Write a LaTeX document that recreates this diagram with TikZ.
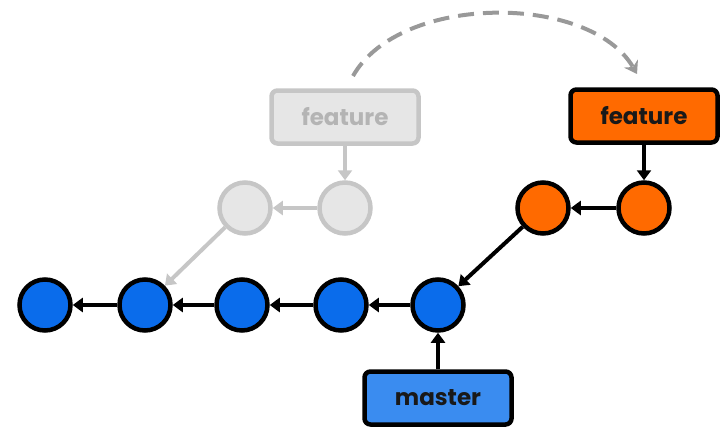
\documentclass[tikz,border=0pt]{standalone}
\usepackage{fontspec}
\setmainfont{Poppins}
\usetikzlibrary{arrows.meta}
\definecolor{cblue}{HTML}{0A6CEB}
\definecolor{cmaster}{HTML}{3A8CF0}
\definecolor{corange}{HTML}{FF6A00}
\definecolor{gfill}{HTML}{E6E6E6}
\definecolor{gline}{HTML}{C6C6C6}
\definecolor{gtext}{HTML}{B4B4B4}
\definecolor{dashgray}{HTML}{999999}
\tikzset{
  commit/.style={circle,draw=black,line width=4.5pt,minimum size=51pt,inner sep=0pt},
  bluec/.style={commit,fill=cblue},
  orangec/.style={commit,fill=corange},
  ghostc/.style={commit,draw=gline,fill=gfill},
  label/.style={rounded corners=6pt,draw=black,line width=4.5pt,minimum width=147pt,minimum height=53pt,font=\fontsize{23}{23}\selectfont\bfseries,text=black!90},
  link/.style={line width=4pt,-{Triangle[length=10pt,width=14pt]}},
  ghostlink/.style={link,draw=gline},
}
\begin{document}
\begin{tikzpicture}[x=1pt,y=-1pt]
\useasboundingbox (0,0) rectangle (728,428);
\node[bluec] (b1) at (45,305) {};
\node[bluec] (b2) at (145,305) {};
\node[bluec] (b3) at (242,305) {};
\node[bluec] (b4) at (341,305) {};
\node[bluec] (b5) at (438,305) {};
\node[ghostc] (g1) at (245,208) {};
\node[ghostc] (g2) at (345,208) {};
\node[orangec] (o1) at (543,208) {};
\node[orangec] (o2) at (644,208) {};
\node[label,draw=gline,fill=gfill,text=gtext] (gf) at (345,117) {feature};
\node[label,fill=corange] (of) at (644,116) {feature};
\node[label,fill=cmaster] (ms) at (438,398) {master};
\draw[link] (b2) -- (b1);
\draw[link] (b3) -- (b2);
\draw[link] (b4) -- (b3);
\draw[link] (b5) -- (b4);
\draw[link] (o2) -- (o1);
\draw[link] (o1) -- (b5);
\draw[link] (of) -- (o2);
\draw[link] (ms) -- (b5);
\draw[ghostlink] (g2) -- (g1);
\draw[ghostlink] (g1) -- (b2);
\draw[ghostlink] (gf) -- (g2);
\coordinate (as) at (353,76);
\coordinate (ae) at (637,74);
\draw[dashgray,line width=4pt,dash pattern=on 16pt off 9pt,-{Stealth[length=12pt,width=16pt]}] (as) .. controls (400,-7) and (590,-7) .. (ae);
\end{tikzpicture}
\end{document}
